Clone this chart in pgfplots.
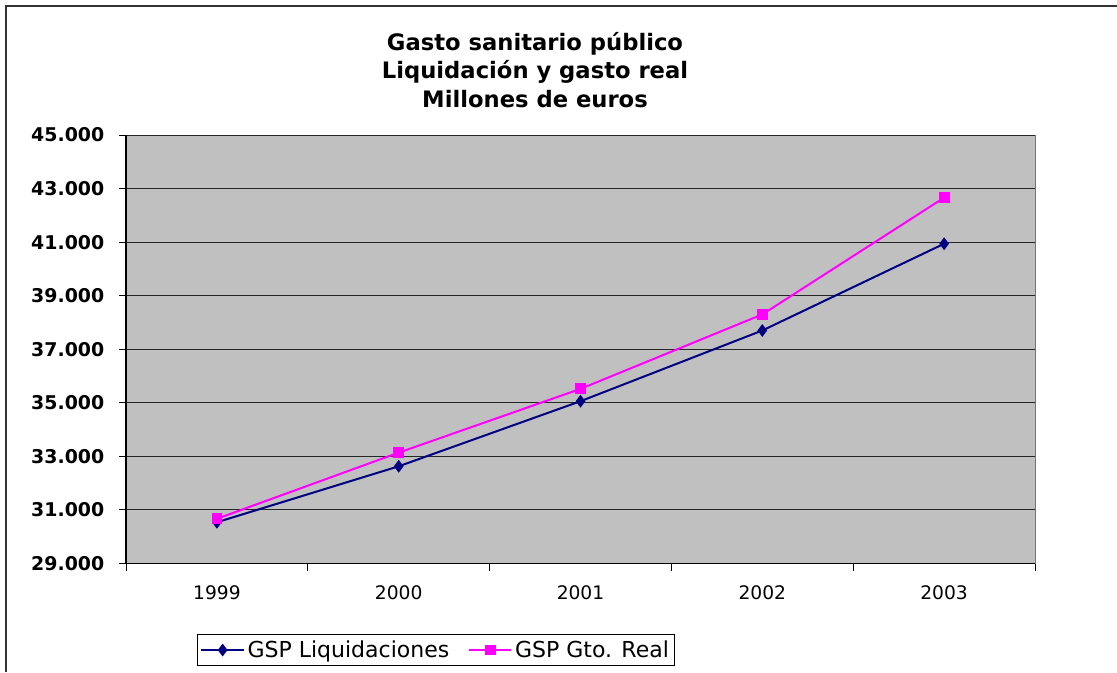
\documentclass[border=0pt]{standalone}
\usepackage{pgfplots}
\pgfplotsset{compat=1.18}
\usepackage{fontspec}
\setmainfont{DejaVu Sans}
\definecolor{plotgray}{HTML}{C0C0C0}
\definecolor{navyline}{HTML}{000080}
\definecolor{magline}{HTML}{FF00FF}
\begin{document}
\begin{tikzpicture}[x=0.75pt,y=-0.75pt]
\useasboundingbox (0,0) rectangle (1117,672);
\draw[line width=1.5pt, black!80] (5.5,672) -- (5.5,5.5) -- (1117,5.5);
\node[font=\fontsize{17}{21.4}\selectfont\bfseries, align=center] at (535,70) {Gasto sanitario público\\Liquidación y gasto real\\Millones de euros};
\begin{axis}[
  at={(94.5pt,-422.625pt)}, anchor=south west,
  scale only axis, width=681.75pt, height=321.375pt,
  xmin=-0.5, xmax=4.5, ymin=29000, ymax=45000,
  axis x line*=bottom, axis y line*=left,
  axis line style={black, line width=1pt},
  axis background/.style={fill=plotgray, draw=black!55, line width=0.75pt},
  ytick={29000,31000,...,45000},
  xtick={0,...,4}, xticklabels={1999,2000,2001,2002,2003},
  minor xtick={-0.5,0.5,...,4.5},
  major x tick style={draw=none},
  tick align=outside,
  major tick length=5.25pt, minor tick length=5.25pt,
  tick style={black, line width=0.75pt},
  ymajorgrids, major grid style={black!85, line width=0.75pt},
  scaled y ticks=false,
  /pgf/number format/assume math mode=true,
  yticklabel style={font=\fontsize{14.2}{14}\selectfont\bfseries, xshift=-7.5pt, /pgf/number format/.cd, fixed, precision=0, 1000 sep={.}},
  xticklabel style={font=\fontsize{14}{14}\selectfont, yshift=-8pt},
  legend style={at={(0.341,-0.2019)}, anchor=center, legend columns=2, draw=black, line width=0.75pt,
    font=\fontsize{16.5}{16.5}\selectfont, inner sep=2.5pt,
    /tikz/every even column/.append style={column sep=12pt}},
  legend image code/.code={\draw[mark repeat=2,mark phase=2] plot coordinates {(0cm,0cm) (0.56cm,0cm) (1.12cm,0cm)};},
]
\addplot[navyline, line width=1.5pt, mark=diamond*, mark size=3.6pt, mark options={solid, fill=navyline}] coordinates {(0,30540) (1,32630) (2,35060) (3,37700) (4,40940)};
\addlegendentry{GSP Liquidaciones}
\addplot[magline, line width=1.5pt, mark=square*, mark size=3.3pt, mark options={solid, fill=magline}] coordinates {(0,30670) (1,33140) (2,35520) (3,38300) (4,42660)};
\addlegendentry{GSP Gto. Real}
\end{axis}
\end{tikzpicture}
\end{document}
